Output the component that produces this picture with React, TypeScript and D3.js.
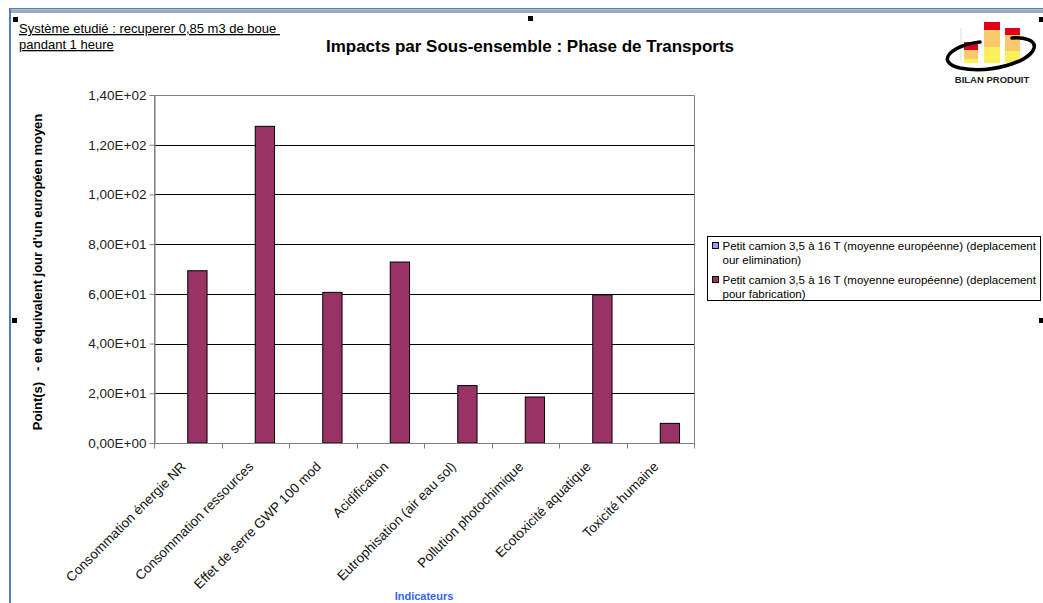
import * as d3 from "d3"
import { useEffect, useRef } from "react"

const W = 1043
const H = 603
const FONT = "'Liberation Sans', Arial, sans-serif"

const categories = [
  "Consommation énergie NR",
  "Consommation ressources",
  "Effet de serre GWP 100 mod",
  "Acidification",
  "Eutrophisation (air eau sol)",
  "Pollution photochimique",
  "Ecotoxicité aquatique",
  "Toxicité humaine",
]
const seriesNames = [
  "Petit camion 3,5 à 16 T (moyenne européenne) (deplacement pour elimination)",
  "Petit camion 3,5 à 16 T (moyenne européenne) (deplacement pour fabrication)",
]
const eliminationValues = [0, 0, 0, 0, 0, 0, 0, 0]
const fabricationValues = [69.3, 127.4, 60.6, 72.8, 23.1, 18.5, 59.6, 7.9]
const yTicks = [0, 20, 40, 60, 80, 100, 120, 140]
const seriesColors = ["#9999ff", "#993366"]

const plot = { left: 154, right: 694, top: 95, bottom: 443 }

// 1,40E+02 style labels
const sciFr = (v: number) => {
  const [m, e] = v.toExponential(2).split("e")
  const exp = Math.abs(+e).toString().padStart(2, "0")
  return `${m.replace(".", ",")}E${+e < 0 ? "-" : "+"}${exp}`
}

export default function App() {
  const svgRef = useRef<SVGSVGElement | null>(null)

  useEffect(() => {
    if (!svgRef.current) return
    const svg = d3.select(svgRef.current)
    svg.selectAll("*").remove()

    // page frame
    svg.append("rect").attr("x", 9).attr("y", 8).attr("width", W - 9).attr("height", 1.5).attr("fill", "#4f81bd")
    svg.append("rect").attr("x", 11).attr("y", 10).attr("width", W - 11).attr("height", 3).attr("fill", "#a8a8b0")
    svg.append("rect").attr("x", 9).attr("y", 8).attr("width", 2).attr("height", H).attr("fill", "#4f81bd")

    // selection handles
    const handles: [number, number][] = [[13, 17], [528, 16], [1039, 17], [12, 318], [1039, 318]]
    svg
      .selectAll("rect.handle")
      .data(handles)
      .enter()
      .append("rect")
      .attr("class", "handle")
      .attr("x", (d) => d[0])
      .attr("y", (d) => d[1])
      .attr("width", 5)
      .attr("height", 5)
      .attr("fill", "#000")

    // top-left note
    const note = svg.append("g").style("font-family", FONT).style("font-size", "13px").attr("fill", "#000")
    note.append("text").attr("x", 19).attr("y", 33).style("text-decoration", "underline").attr("xml:space", "preserve").text("Système etudié : recuperer 0,85 m3 de boue ")
    note.append("text").attr("x", 19).attr("y", 49).style("text-decoration", "underline").text("pandant 1 heure")

    // title
    svg
      .append("text")
      .attr("x", 530)
      .attr("y", 52)
      .attr("text-anchor", "middle")
      .style("font-family", FONT)
      .style("font-size", "17px")
      .style("font-weight", "bold")
      .attr("fill", "#000")
      .text("Impacts par Sous-ensemble : Phase de Transports")

    // logo
    const logo = svg.append("g")
    const logoBars = [
      { x: 964, w: 14, segs: [[42, 50, "#e3001b"], [50, 59, "#f9c96b"], [59, 63, "#fbf05a"]] },
      { x: 984, w: 16, segs: [[22, 30, "#e3001b"], [30, 47, "#f9c96b"], [47, 63, "#fbf05a"]] },
      { x: 1005, w: 15, segs: [[28, 35, "#e3001b"], [35, 51, "#f9c96b"], [51, 63, "#fbf05a"]] },
    ]
    logo.append("line").attr("x1", 961).attr("x2", 961).attr("y1", 28).attr("y2", 63).attr("stroke", "#ddd")
    logoBars.forEach((b) => {
      b.segs.forEach((s) => {
        logo
          .append("rect")
          .attr("x", b.x)
          .attr("y", s[0] as number)
          .attr("width", b.w)
          .attr("height", (s[1] as number) - (s[0] as number))
          .attr("fill", s[2] as string)
      })
    })
    logo
      .append("path")
      .attr("d", "M 980 42 C 950 46, 935 62, 960 68 C 990 74, 1030 62, 1034 48 C 1036 40, 1024 37, 1012 38")
      .attr("fill", "none")
      .attr("stroke", "#000")
      .attr("stroke-width", 3.5)
      .attr("stroke-linecap", "round")
    logo
      .append("text")
      .attr("x", 992)
      .attr("y", 83)
      .attr("text-anchor", "middle")
      .style("font-family", FONT)
      .style("font-size", "9.5px")
      .style("font-weight", "bold")
      .attr("fill", "#222")
      .text("BILAN PRODUIT")

    // scales
    const x = d3.scaleBand().domain(categories).range([plot.left, plot.right]).paddingInner(0).paddingOuter(0)
    const barW = x.bandwidth() / 3.5
    const x1 = d3
      .scaleBand()
      .domain(seriesNames)
      .range([barW * 0.75, x.bandwidth() - barW * 0.75])
    const y = d3.scaleLinear().domain([0, 140]).range([plot.bottom, plot.top])

    // gridlines
    svg
      .append("g")
      .selectAll("line")
      .data(yTicks.filter((t) => t > 0 && t < 140))
      .enter()
      .append("line")
      .attr("x1", plot.left)
      .attr("x2", plot.right)
      .attr("y1", (d) => Math.round(y(d)) + 0.5)
      .attr("y2", (d) => Math.round(y(d)) + 0.5)
      .attr("stroke", "#000")

    // plot border
    svg
      .append("path")
      .attr("d", `M${plot.left + 0.5},${plot.bottom} V${plot.top + 0.5} H${plot.right + 0.5} V${plot.bottom}`)
      .attr("fill", "none")
      .attr("stroke", "#808080")

    // bars
    const rows = categories.map((c, i) => ({ c, vals: [eliminationValues[i], fabricationValues[i]] }))
    svg
      .append("g")
      .selectAll("g")
      .data(rows)
      .enter()
      .append("g")
      .attr("transform", (d) => `translate(${x(d.c)},0)`)
      .selectAll("rect")
      .data((d) => d.vals.map((v, k) => ({ v, k })).filter((e) => e.v > 0))
      .enter()
      .append("rect")
      .attr("x", (d) => x1(seriesNames[d.k])!)
      .attr("width", x1.bandwidth())
      .attr("y", (d) => y(d.v))
      .attr("height", (d) => y(0) - y(d.v))
      .attr("fill", (d) => seriesColors[d.k])
      .attr("stroke", "#000")
      .attr("stroke-width", 1)

    // y axis
    const yAxis = svg
      .append("g")
      .attr("transform", `translate(${plot.left + 0.5},0)`)
      .call(d3.axisLeft(y).tickValues(yTicks).tickSize(5).tickPadding(3).tickFormat((d) => sciFr(+d)))
    yAxis.select(".domain").attr("stroke", "#808080")
    yAxis.selectAll(".tick line").attr("stroke", "#808080")
    yAxis.selectAll(".tick text").style("font-family", FONT).style("font-size", "13.5px").attr("fill", "#222")

    // x axis
    const xAxis = svg.append("g").attr("transform", `translate(0,${plot.bottom + 0.5})`)
    xAxis
      .append("line")
      .attr("x1", plot.left)
      .attr("x2", plot.right + 1)
      .attr("stroke", "#808080")
    xAxis
      .selectAll("line.tick")
      .data(d3.range(categories.length + 1))
      .enter()
      .append("line")
      .attr("class", "tick")
      .attr("x1", (i) => Math.round(plot.left + i * x.step()) + 0.5)
      .attr("x2", (i) => Math.round(plot.left + i * x.step()) + 0.5)
      .attr("y1", 0)
      .attr("y2", 5)
      .attr("stroke", "#808080")
    xAxis
      .selectAll("text")
      .data(categories)
      .enter()
      .append("text")
      .attr("transform", (d) => `translate(${x(d)! + x.bandwidth() / 2 - 1},${24}) rotate(-45)`)
      .attr("text-anchor", "end")
      .style("font-family", FONT)
      .style("font-size", "13.5px")
      .attr("fill", "#111")
      .text((d) => d)

    // axis titles
    svg
      .append("text")
      .attr("transform", `translate(42,${272}) rotate(-90)`)
      .attr("text-anchor", "middle")
      .attr("xml:space", "preserve")
      .style("font-family", FONT)
      .style("font-size", "13px")
      .style("font-weight", "bold")
      .attr("fill", "#000")
      .text("Point(s)   - en équivalent jour d'un européen moyen")

    svg
      .append("text")
      .attr("x", 424)
      .attr("y", 600)
      .attr("text-anchor", "middle")
      .style("font-family", FONT)
      .style("font-size", "11px")
      .style("font-weight", "bold")
      .attr("fill", "#3366ff")
      .text("Indicateurs")

    // legend
    const lg = svg.append("g").attr("transform", "translate(707.5,236.5)")
    lg.append("rect").attr("width", 333).attr("height", 64).attr("fill", "#fff").attr("stroke", "#000")
    const legendLines = [
      ["Petit camion 3,5 à 16 T (moyenne européenne) (deplacement", "our elimination)"],
      ["Petit camion 3,5 à 16 T (moyenne européenne) (deplacement", "pour fabrication)"],
    ]
    legendLines.forEach((lines, i) => {
      const gy = 6 + i * 34
      lg.append("rect").attr("x", 5).attr("y", gy).attr("width", 6).attr("height", 6).attr("fill", seriesColors[i]).attr("stroke", "#000")
      lines.forEach((t, j) => {
        lg.append("text")
          .attr("x", 15)
          .attr("y", gy + 7 + j * 14)
          .style("font-family", FONT)
          .style("font-size", "11.5px")
          .attr("fill", "#000")
          .text(t)
      })
    })
  }, [])

  return (
    <div style={{ position: "fixed", left: 0, top: 0, background: "#fff" }}>
      <svg ref={svgRef} width={W} height={H} style={{ display: "block" }} />
    </div>
  )
}
